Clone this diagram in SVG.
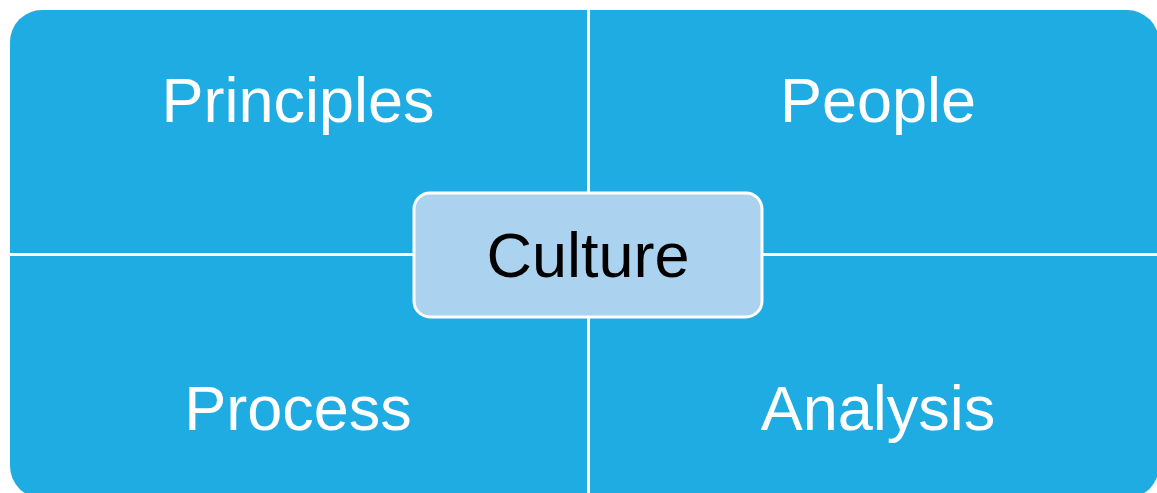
<svg xmlns="http://www.w3.org/2000/svg" width="1157" height="493" viewBox="0 0 1157 493">
<style>
.q{fill:#1FACE3;}
.qt{font-family:"Liberation Sans",Arial,sans-serif;font-size:63px;fill:#FFFFFF;text-anchor:middle;}
.ct{font-family:"Liberation Sans",Arial,sans-serif;font-size:63px;fill:#000000;text-anchor:middle;}
</style>
<rect width="1157" height="493" fill="#FFFFFF"/>
<g id="principles">
<path class="q" d="M10,42 A32,32 0 0 1 42,10 L587,10 L587,253 L10,253 Z"/>
<text class="qt" x="298" y="122">Principles</text>
</g>
<g id="people">
<path class="q" d="M590,10 L1127,10 A32,32 0 0 1 1159,42 L1159,253 L590,253 Z"/>
<text class="qt" x="878" y="122">People</text>
</g>
<g id="process">
<path class="q" d="M10,256 L587,256 L587,498 L42,498 A32,32 0 0 1 10,466 Z"/>
<text class="qt" x="298" y="430">Process</text>
</g>
<g id="analysis">
<path class="q" d="M590,256 L1159,256 L1159,466 A32,32 0 0 1 1127,498 L590,498 Z"/>
<text class="qt" x="878" y="430">Analysis</text>
</g>
<g id="culture">
<rect x="414" y="193" width="348" height="124" rx="16" ry="16" fill="#ABD3EF" stroke="#FFFFFF" stroke-width="3"/>
<text class="ct" x="588" y="277">Culture</text>
</g>
<g id="connectors"></g>
</svg>
